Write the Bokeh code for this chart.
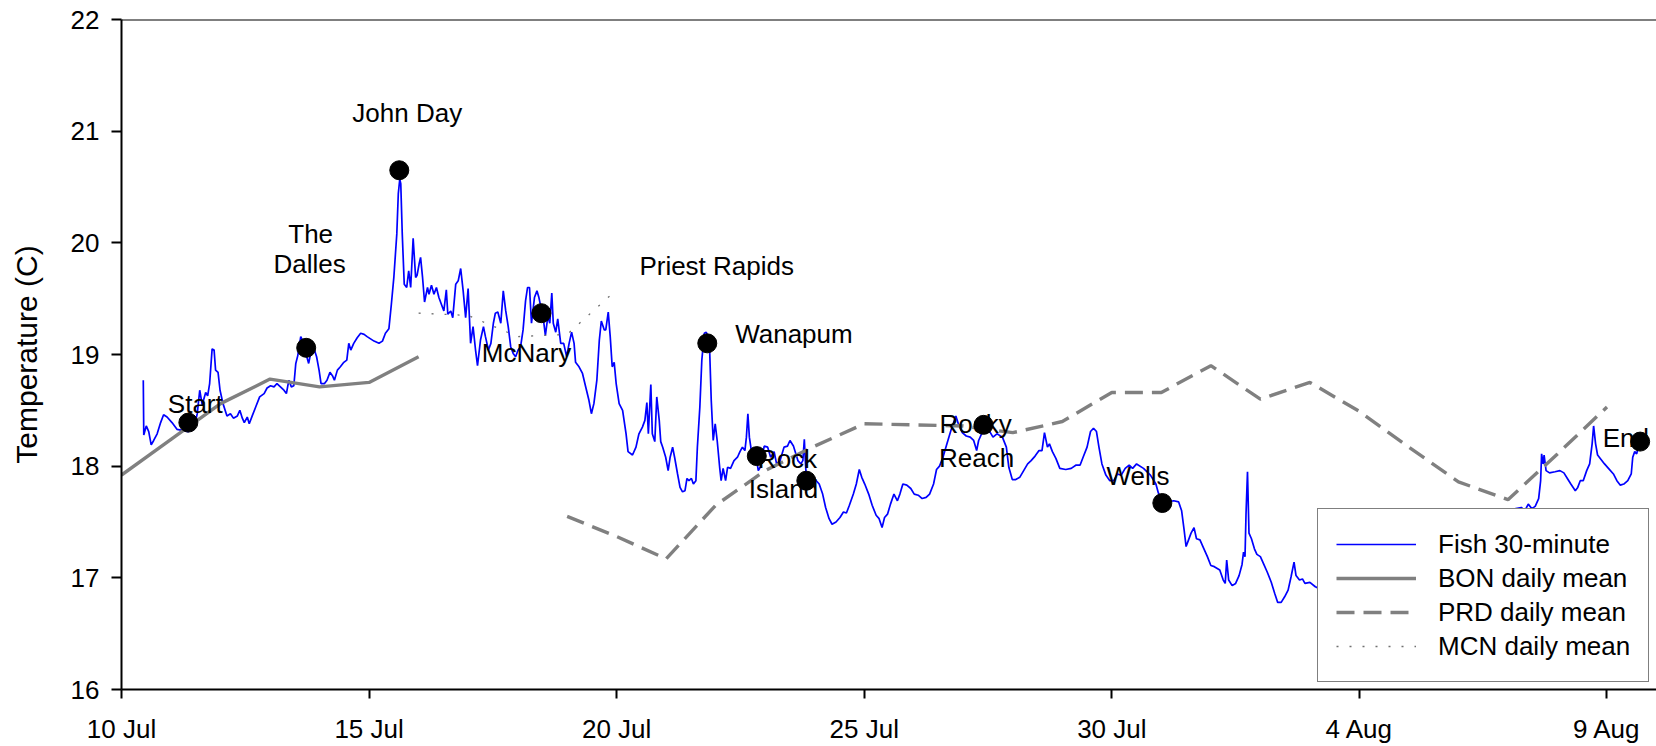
from bokeh.plotting import figure
from bokeh.models import (FixedTicker, Span, Legend, LegendItem, ColumnDataSource)
from bokeh.core.properties import value
from bokeh.embed import file_html
from bokeh.resources import INLINE

# ---------------- data (x = day of July; 35 = 4 Aug) ----------------
fish_day = [10.44, 10.45, 10.50, 10.55, 10.60, 10.65, 10.72, 10.79, 10.85, 10.92,
            11.02, 11.12, 11.23, 11.35, 11.46, 11.53, 11.58, 11.63, 11.70, 11.74,
            11.78, 11.83, 11.87, 11.90, 11.95, 11.99, 12.05, 12.13, 12.20, 12.26,
            12.34, 12.39, 12.44, 12.48, 12.54, 12.58, 12.64, 12.71, 12.79, 12.88,
            12.94, 13.01, 13.08, 13.14, 13.21, 13.28, 13.33, 13.38, 13.43, 13.48,
            13.52, 13.56, 13.62, 13.65, 13.70, 13.78, 13.82, 13.89, 13.94, 13.99,
            14.03, 14.10, 14.15, 14.21, 14.26, 14.30, 14.36, 14.42, 14.49, 14.55,
            14.59, 14.63, 14.69, 14.76, 14.83, 14.90, 14.96, 15.03, 15.10, 15.20,
            15.27, 15.33, 15.40, 15.45, 15.50, 15.56, 15.59, 15.62, 15.64, 15.67,
            15.71, 15.76, 15.80, 15.84, 15.89, 15.94, 15.97, 16.01, 16.04, 16.08,
            16.12, 16.18, 16.21, 16.26, 16.31, 16.36, 16.41, 16.46, 16.51, 16.56,
            16.59, 16.65, 16.69, 16.75, 16.80, 16.85, 16.90, 16.95, 17.00, 17.05,
            17.10, 17.15, 17.19, 17.25, 17.31, 17.35, 17.41, 17.46, 17.51, 17.55,
            17.60, 17.66, 17.71, 17.76, 17.81, 17.86, 17.91, 17.96, 18.01, 18.06,
            18.11, 18.16, 18.20, 18.24, 18.28, 18.34, 18.39, 18.43, 18.48, 18.53,
            18.56, 18.61, 18.65, 18.69, 18.72, 18.77, 18.81, 18.87, 18.93, 18.99,
            19.04, 19.09, 19.14, 19.17, 19.24, 19.31, 19.38, 19.44, 19.49, 19.54,
            19.60, 19.65, 19.69, 19.75, 19.78, 19.83, 19.87, 19.91, 19.95, 19.99,
            20.05, 20.12, 20.19, 20.23, 20.32, 20.39, 20.45, 20.52, 20.57, 20.61,
            20.64, 20.69, 20.72, 20.77, 20.81, 20.86, 20.89, 20.93, 20.99, 21.04,
            21.08, 21.13, 21.17, 21.23, 21.28, 21.33, 21.38, 21.42, 21.46, 21.51,
            21.55, 21.60, 21.63, 21.68, 21.72, 21.77, 21.81, 21.85, 21.88, 21.91,
            21.95, 21.99, 22.03, 22.08, 22.11, 22.15, 22.20, 22.24, 22.30, 22.37,
            22.44, 22.49, 22.54, 22.59, 22.62, 22.65, 22.68, 22.72, 22.78, 22.83,
            22.86, 22.90, 22.98, 23.05, 23.11, 23.18, 23.23, 23.30, 23.38, 23.45,
            23.50, 23.57, 23.62, 23.66, 23.72, 23.76, 23.79, 23.81, 23.83, 23.92,
            23.99, 24.09, 24.16, 24.22, 24.29, 24.35, 24.43, 24.51, 24.58, 24.64,
            24.70, 24.78, 24.84, 24.90, 24.95, 25.01, 25.09, 25.16, 25.24, 25.30,
            25.36, 25.41, 25.47, 25.53, 25.60, 25.67, 25.72, 25.78, 25.86, 25.94,
            26.01, 26.09, 26.17, 26.25, 26.32, 26.40, 26.46, 26.52, 26.59, 26.67,
            26.75, 26.85, 26.90, 26.98, 27.06, 27.14, 27.21, 27.27, 27.31, 27.41,
            27.52, 27.60, 27.68, 27.79, 27.87, 27.92, 27.99, 28.06, 28.14, 28.22,
            28.30, 28.37, 28.45, 28.53, 28.59, 28.64, 28.70, 28.74, 28.80, 28.87,
            28.95, 29.07, 29.18, 29.28, 29.36, 29.42, 29.50, 29.57, 29.63, 29.69,
            29.74, 29.80, 29.88, 29.96, 30.04, 30.11, 30.19, 30.27, 30.35, 30.42,
            30.50, 30.64, 30.78, 30.89, 30.94, 31.02, 31.14, 31.25, 31.35, 31.41,
            31.46, 31.50, 31.55, 31.60, 31.66, 31.71, 31.78, 31.86, 31.93, 32.00,
            32.07, 32.18, 32.25, 32.29, 32.32, 32.36, 32.43, 32.50, 32.57, 32.63,
            32.66, 32.69, 32.71, 32.74, 32.77, 32.82, 32.88, 32.93, 33.00, 33.07,
            33.14, 33.22, 33.29, 33.35, 33.42, 33.49, 33.56, 33.62, 33.68, 33.72,
            33.79, 33.85, 33.90, 34.00, 34.11, 34.16, 34.50, 35.00, 35.50, 36.00,
            36.50, 37.00, 37.50, 37.90, 38.07, 38.16, 38.27, 38.34, 38.41, 38.48,
            38.55, 38.62, 38.66, 38.68, 38.71, 38.73, 38.77, 38.84, 38.95, 39.05,
            39.13, 39.20, 39.27, 39.36, 39.41, 39.46, 39.52, 39.59, 39.65, 39.70,
            39.73, 39.77, 39.81, 39.88, 39.95, 40.03, 40.13, 40.20, 40.27, 40.34,
            40.42, 40.49, 40.52, 40.56, 40.60, 40.63, 40.67]
fish_temp = [18.77, 18.28, 18.36, 18.31, 18.19, 18.23, 18.29, 18.39, 18.46, 18.44,
             18.39, 18.33, 18.32, 18.31, 18.33, 18.47, 18.68, 18.55, 18.66, 18.63,
             18.74, 19.05, 19.04, 18.86, 18.84, 18.68, 18.56, 18.45, 18.47, 18.43,
             18.45, 18.50, 18.43, 18.39, 18.44, 18.38, 18.45, 18.53, 18.62, 18.65,
             18.70, 18.72, 18.71, 18.74, 18.71, 18.68, 18.65, 18.77, 18.71, 18.72,
             18.92, 18.99, 19.16, 19.13, 19.05, 18.92, 19.01, 19.05, 18.98, 18.86,
             18.74, 18.74, 18.77, 18.84, 18.81, 18.77, 18.86, 18.89, 18.93, 18.95,
             19.10, 19.04, 19.10, 19.15, 19.19, 19.18, 19.16, 19.14, 19.12, 19.10,
             19.12, 19.19, 19.23, 19.45, 19.69, 20.08, 20.44, 20.57, 20.53, 20.08,
             19.63, 19.60, 19.75, 19.60, 20.04, 19.69, 19.71, 19.81, 19.87, 19.69,
             19.47, 19.60, 19.54, 19.62, 19.54, 19.60, 19.51, 19.45, 19.39, 19.58,
             19.36, 19.39, 19.33, 19.63, 19.66, 19.77, 19.57, 19.33, 19.59, 19.10,
             19.25, 19.04, 18.90, 19.13, 19.25, 19.16, 19.04, 19.10, 19.28, 19.37,
             19.38, 19.28, 19.57, 19.39, 19.25, 19.07, 19.01, 18.98, 19.04, 19.07,
             19.22, 19.48, 19.60, 19.60, 19.28, 19.51, 19.57, 19.51, 19.40, 19.28,
             19.17, 19.34, 19.28, 19.55, 19.28, 19.20, 19.32, 19.10, 19.10, 18.98,
             19.10, 19.20, 19.10, 18.93, 18.89, 18.83, 18.70, 18.59, 18.47, 18.56,
             18.77, 19.13, 19.30, 19.22, 19.22, 19.38, 19.16, 18.89, 18.93, 18.74,
             18.56, 18.50, 18.29, 18.13, 18.10, 18.17, 18.29, 18.35, 18.41, 18.57,
             18.29, 18.73, 18.29, 18.22, 18.62, 18.41, 18.22, 18.17, 18.08, 17.96,
             18.08, 18.17, 18.08, 17.93, 17.81, 17.77, 17.78, 17.89, 17.87, 17.89,
             17.84, 17.87, 18.17, 18.53, 18.95, 19.19, 19.20, 19.14, 19.01, 18.59,
             18.23, 18.38, 18.23, 17.99, 17.87, 17.98, 17.87, 17.99, 17.98, 18.05,
             18.08, 18.13, 18.17, 18.14, 18.26, 18.47, 18.26, 18.14, 18.08, 18.05,
             17.96, 17.99, 18.18, 18.17, 18.08, 18.13, 18.02, 18.05, 18.17, 18.18,
             18.23, 18.18, 18.11, 18.05, 18.02, 18.05, 18.24, 18.05, 17.90, 17.87,
             17.89, 17.84, 17.75, 17.63, 17.53, 17.48, 17.50, 17.54, 17.59, 17.58,
             17.65, 17.75, 17.84, 17.97, 17.90, 17.84, 17.75, 17.65, 17.56, 17.53,
             17.45, 17.54, 17.57, 17.66, 17.75, 17.69, 17.75, 17.84, 17.83, 17.80,
             17.75, 17.74, 17.71, 17.72, 17.75, 17.84, 17.97, 18.00, 18.08, 18.20,
             18.32, 18.45, 18.38, 18.30, 18.27, 18.26, 18.23, 18.14, 18.23, 18.33,
             18.32, 18.26, 18.29, 18.26, 18.17, 17.99, 17.88, 17.88, 17.90, 17.96,
             18.02, 18.05, 18.09, 18.14, 18.14, 18.30, 18.17, 18.20, 18.13, 18.07,
             17.98, 17.97, 17.98, 18.01, 18.01, 18.08, 18.17, 18.31, 18.34, 18.31,
             18.17, 18.02, 17.92, 17.87, 17.87, 17.93, 17.92, 17.98, 18.01, 17.98,
             18.02, 17.98, 17.92, 17.84, 17.76, 17.68, 17.68, 17.69, 17.68, 17.60,
             17.43, 17.28, 17.34, 17.40, 17.45, 17.35, 17.34, 17.26, 17.19, 17.11,
             17.10, 17.07, 16.98, 16.95, 17.16, 16.98, 16.93, 16.95, 17.02, 17.12,
             17.23, 17.19, 17.57, 17.95, 17.40, 17.35, 17.26, 17.21, 17.19, 17.12,
             17.05, 16.96, 16.86, 16.78, 16.78, 16.83, 16.89, 17.01, 17.14, 17.02,
             16.98, 16.99, 16.95, 16.96, 16.92, 16.91, 16.88, 16.85, 16.90, 17.00,
             17.10, 17.30, 17.45, 17.58, 17.61, 17.62, 17.63, 17.60, 17.66, 17.62,
             17.64, 17.71, 17.87, 18.11, 18.02, 18.10, 17.96, 17.94, 17.95, 17.96,
             17.94, 17.89, 17.84, 17.78, 17.81, 17.87, 17.87, 17.96, 18.02, 18.20,
             18.36, 18.20, 18.10, 18.06, 18.02, 17.98, 17.93, 17.87, 17.83, 17.84,
             17.87, 17.93, 18.08, 18.13, 18.11, 18.17, 18.22]

bon_day = [10, 11, 12, 13, 14, 15, 16]
bon_temp = [17.92, 18.24, 18.56, 18.78, 18.71, 18.75, 18.98]

prd_day = [19, 20, 21, 22, 23, 24, 25, 26, 27, 28, 29, 30, 31, 32, 33, 34, 35,
           36, 37, 38, 39, 40]
prd_temp = [17.55, 17.37, 17.17, 17.65, 17.96, 18.18, 18.38, 18.37, 18.36, 18.30,
            18.40, 18.66, 18.66, 18.90, 18.60, 18.75, 18.49, 18.17, 17.86, 17.70,
            18.11, 18.53]

mcn_day = [16, 17, 18, 19, 20]
mcn_temp = [19.37, 19.35, 19.16, 19.18, 19.58]

site_day = [11.35, 13.73, 15.61, 18.48, 21.83, 22.83, 23.83, 27.41, 31.02, 40.67]
site_temp = [18.39, 19.06, 20.65, 19.37, 19.10, 18.09, 17.87, 18.37, 17.67, 18.22]

label_text = ["Start", "The", "Dalles", "John Day", "McNary", "Priest Rapids",
              "Wanapum", "Rock", "Island", "Rocky", "Reach", "Wells", "End"]
label_day = [11.49, 13.82, 13.80, 15.77, 18.18, 22.02, 23.58, 23.45, 23.37,
             27.25, 27.27, 30.53, 40.38]
label_temp = [18.56, 20.08, 19.81, 21.16, 19.01, 19.79, 19.18, 18.06, 17.80,
              18.38, 18.07, 17.91, 18.25]

x_ticks = [10, 15, 20, 25, 30, 35, 40]
x_tick_labels = ["10 Jul", "15 Jul", "20 Jul", "25 Jul", "30 Jul", "4 Aug", "9 Aug"]
y_ticks = [16, 17, 18, 19, 20, 21, 22]

FONT = "Liberation Sans"

p = figure(width=1656, height=746, x_range=(10, 41.0), y_range=(16, 22),
           output_backend="svg", toolbar_location=None,
           min_border_left=121, min_border_right=0, min_border_top=19,
           min_border_bottom=57)
p.outline_line_color = None
p.grid.visible = False
p.background_fill_color = "white"

for ax in (p.xaxis[0], p.yaxis[0]):
    ax.axis_line_width = 2
    ax.axis_line_color = "black"
    ax.major_tick_line_width = 2
    ax.major_tick_in = 0
    ax.minor_tick_line_color = None
    ax.major_label_text_font = FONT
    ax.major_label_text_font_size = "26px"
    ax.major_label_text_color = "black"

p.xaxis.ticker = FixedTicker(ticks=x_ticks)
p.xaxis.major_label_overrides = {t: lab for t, lab in zip(x_ticks, x_tick_labels)}
p.xaxis.major_tick_out = 9
p.xaxis.major_label_standoff = 15

p.yaxis.ticker = FixedTicker(ticks=y_ticks)
p.yaxis.major_tick_out = 10
p.yaxis.major_label_standoff = 12
p.yaxis.axis_label = "Temperature (C)"
p.yaxis.axis_label_text_font = FONT
p.yaxis.axis_label_text_font_size = "30px"
p.yaxis.axis_label_text_font_style = "normal"
p.yaxis.axis_label_text_color = "black"
p.yaxis.axis_label_standoff = 25

p.add_layout(Span(location=22, dimension="width", line_color="black", line_width=2))

r_fish = p.line(fish_day, fish_temp, line_color="#0000ff", line_width=1.7)
r_bon = p.line(bon_day, bon_temp, line_color="#808080", line_width=3.4)
r_prd = p.line(prd_day, prd_temp, line_color="#808080", line_width=3.4,
               line_dash="18 9")
r_mcn = p.line(mcn_day, mcn_temp, line_color="#707070", line_width=1.3,
               line_dash="2 11")

lab_src = ColumnDataSource(dict(x=label_day, y=label_temp, t=label_text))
p.text(x="x", y="y", text="t", source=lab_src, text_font=value(FONT),
       text_font_size="26px", text_align="center", text_baseline="alphabetic",
       text_color="black")

p.scatter(site_day, site_temp, size=19, marker="circle", fill_color="black",
          line_color="black")

legend = Legend(items=[
    LegendItem(label="Fish 30-minute", renderers=[r_fish]),
    LegendItem(label="BON daily mean", renderers=[r_bon]),
    LegendItem(label="PRD daily mean", renderers=[r_prd]),
    LegendItem(label="MCN daily mean", renderers=[r_mcn]),
], location=(1196, 7))
legend.label_text_font = FONT
legend.label_text_font_size = "26px"
legend.label_text_color = "black"
legend.glyph_width = 80
legend.glyph_height = 34
legend.label_height = 34
legend.label_standoff = 22
legend.spacing = 0
legend.padding = 18
legend.margin = 0
legend.border_line_color = "black"
legend.border_line_width = 1.5
legend.background_fill_color = "white"
legend.background_fill_alpha = 1.0
p.add_layout(legend)

open("out.html", "w").write(file_html(p, INLINE))
